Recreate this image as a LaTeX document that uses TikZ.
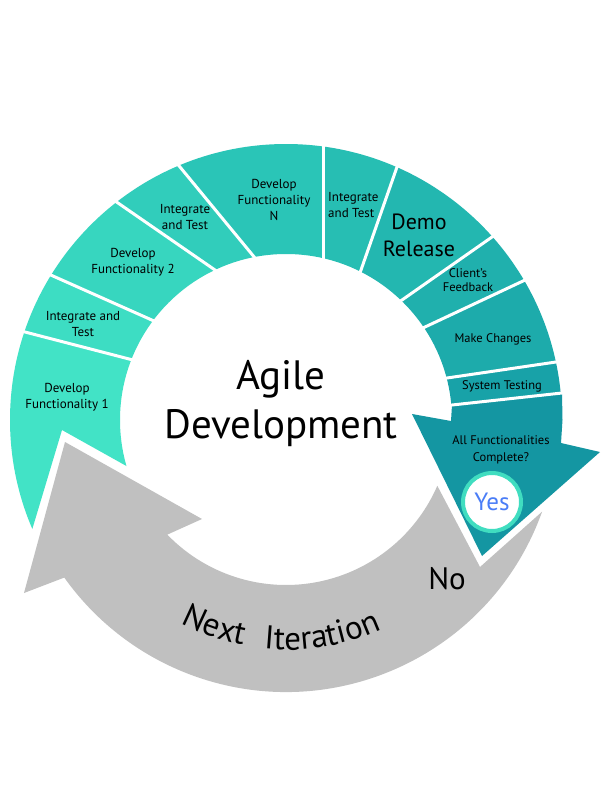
\documentclass[tikz,border=0pt]{standalone}
\usepackage{fontspec}
\setmainfont{PT Sans}
\usetikzlibrary{calc,decorations.text}
\definecolor{c1}{HTML}{42E3C6}
\definecolor{c2}{HTML}{3DDDC3}
\definecolor{c3}{HTML}{37D6BF}
\definecolor{c4}{HTML}{31CDBB}
\definecolor{c5}{HTML}{2AC5B7}
\definecolor{c6}{HTML}{27BEB3}
\definecolor{c7}{HTML}{23B7B0}
\definecolor{c8}{HTML}{20B0AD}
\definecolor{c9}{HTML}{1DABAB}
\definecolor{c10}{HTML}{18A2A8}
\definecolor{c11}{HTML}{1496A2}
\definecolor{greyarc}{HTML}{C0C0C0}
\definecolor{yesring}{HTML}{40DDC0}
\definecolor{yesblue}{HTML}{4A7DF7}
\newcommand\ringseg[3]{%
  \begin{scope}
    \clip ($(#2o)!-0.3!(#2i)$) -- ($(#2i)!-0.3!(#2o)$) -- ($(#3i)!-0.3!(#3o)$) -- ($(#3o)!-0.3!(#3i)$) -- cycle;
    \fill[#1, even odd rule] (O) circle[radius=276] (O) circle[radius=166];
  \end{scope}}
\begin{document}
\begin{tikzpicture}[x=1pt,y=-1pt,
  lbl/.style={font=\fontsize{13}{16}\selectfont, align=center, text=black, inner sep=0pt},
  divider/.style={white, line width=3pt}]
\useasboundingbox[fill=white] (0,0) rectangle (612,792);
\coordinate (O) at (286,420);
% dividers: outer / inner points
\coordinate (d1o) at (25,332);  \coordinate (d1i) at (133,360);
\coordinate (d2o) at (53,276);  \coordinate (d2i) at (154,321);
\coordinate (d3o) at (118,203); \coordinate (d3i) at (215,270);
\coordinate (d4o) at (180,167); \coordinate (d4i) at (255,258);
\coordinate (d5o) at (323,147); \coordinate (d5i) at (323,258);
\coordinate (d6o) at (397,167); \coordinate (d6i) at (361,270);
\coordinate (d7o) at (492,237); \coordinate (d7i) at (402,300);
\coordinate (d8o) at (523,281); \coordinate (d8i) at (425,327);
\coordinate (d9o) at (556,362); \coordinate (d9i) at (447,378);
\coordinate (d10o) at (562,393); \coordinate (d10i) at (452,405);
% first segment (cut by the grey arrow head)
\begin{scope}
  \clip ($(d1o)!-0.3!(d1i)$) -- ($(d1i)!-0.3!(d1o)$) -- ($(130,468)!-0.5!(62,430)$) -- (62,430) -- ($(32,530)!-0.3!(62,430)$) -- cycle;
  \fill[c1, even odd rule] (O) circle[radius=276] (O) circle[radius=166];
\end{scope}
\ringseg{c2}{d1}{d2}
\ringseg{c3}{d2}{d3}
\ringseg{c4}{d3}{d4}
\ringseg{c5}{d4}{d5}
\ringseg{c6}{d5}{d6}
\ringseg{c7}{d6}{d7}
\ringseg{c8}{d7}{d8}
\ringseg{c9}{d8}{d9}
\ringseg{c10}{d9}{d10}
% final arrow
\fill[c11] (d10i) -- (d10o) -- (562.5,420) -- (561,443) -- (600,452) -- (482,556) -- (412,414) -- (451,421) -- cycle;
% white dividers
\foreach \d in {d1,d2,d3,d4,d5,d6,d7,d8,d9,d10}
  \draw[divider] ($(\d o)!-0.1!(\d i)$) -- ($(\d i)!-0.1!(\d o)$);
% grey return arrow
\fill[greyarc] (65,442) -- (202,519) -- ($(O)+(136:165)$) arc[start angle=136, end angle=23.5, radius=165]
  -- (480,567) -- ($(O)+(19.7:272)$) arc[start angle=19.7, end angle=144.6, radius=272] -- (24,593) -- cycle;
% labels
\node[lbl] (f1) at (67,397) {Develop\\Functionality 1};
\node[lbl] (it1) at (83,324) {Integrate and\\Test};
\node[lbl] (f2) at (133,262) {Develop\\Functionality 2};
\node[lbl] (it2) at (185,217) {Integrate\\and Test};
\node[lbl] (fn) at (274,200) {Develop\\Functionality\\N};
\node[lbl, align=left, anchor=west] (it3) at (328,205.5) {Integrate\\and Test};
\node[lbl, font=\fontsize{22}{27}\selectfont] (demo) at (419,235) {Demo\\Release};
\node[lbl, font=\fontsize{12.5}{14}\selectfont] (client) at (468,280) {Client’s\\Feedback};
\node[lbl, font=\fontsize{12.5}{15}\selectfont] (make) at (493,339) {Make Changes};
\node[lbl, font=\fontsize{12.5}{15}\selectfont] (sys) at (502,386) {System Testing};
\node[lbl, font=\fontsize{12.5}{17}\selectfont] (done) at (501,450) {All Functionalities\\Complete?};
\node[circle, draw=yesring, line width=4pt, fill=white, minimum size=58pt, inner sep=0pt,
  text=yesblue, font=\fontsize{25}{25}\selectfont] (yes) at (492,502) {Yes};
\node[lbl, font=\fontsize{41}{49}\selectfont] (title) at (281,404) {Agile\\Development};
\node[lbl, font=\fontsize{31}{31}\selectfont] (no) at (447,579) {No};
\path[decorate, decoration={text along path, text align=left,
  text={|\fontsize{33}{33}\selectfont|Next}}]
  ($(O)+(117.5:229)$) arc[start angle=117.5, end angle=99, radius=229];
\path[decorate, decoration={text along path, text align=left,
  text={|\fontsize{33}{33}\selectfont|Iteration}}]
  ($(O)+(95.5:230)$) arc[start angle=95.5, end angle=62, radius=230];
\end{tikzpicture}
\end{document}
